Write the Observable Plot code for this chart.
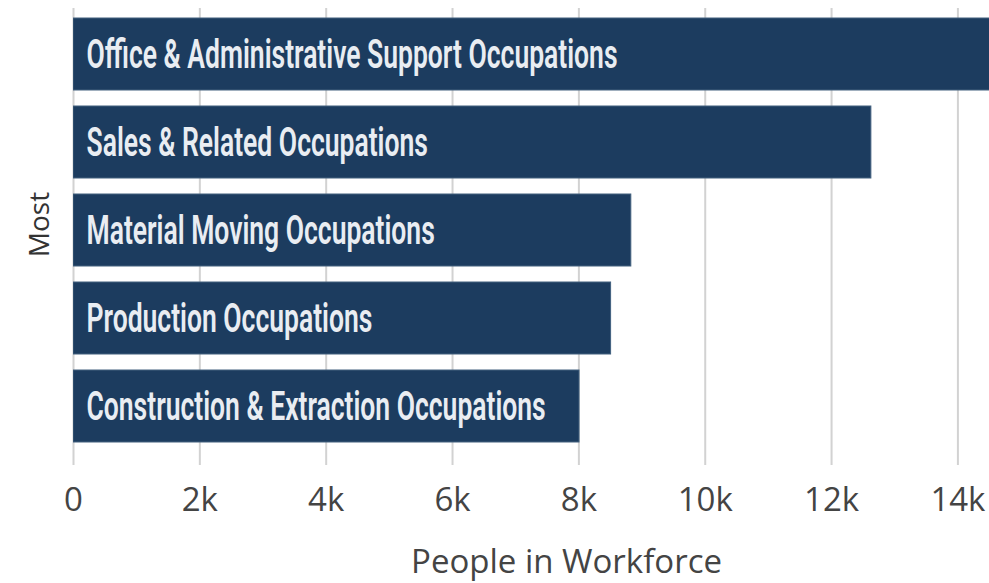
<!DOCTYPE html>
<html>
<head>
<meta charset="utf-8">
<script src="https://cdn.jsdelivr.net/npm/d3@7"></script>
<script src="https://cdn.jsdelivr.net/npm/@observablehq/plot@0.6"></script>
<style>
  html, body { margin: 0; padding: 0; background: #fff; overflow: hidden; }
  #chart svg { display: block; }
</style>
</head>
<body>
<div id="chart"></div>
<script>
const occupations = [
  "Office & Administrative Support Occupations",
  "Sales & Related Occupations",
  "Material Moving Occupations",
  "Production Occupations",
  "Construction & Extraction Occupations"
];
const workers = [14900, 12630, 8830, 8510, 8010];
const xTicks = [0, 2000, 4000, 6000, 8000, 10000, 12000, 14000];
const xLabel = "People in Workforce";
const yLabel = "Most";

const data = occupations.map((name, i) => ({name, value: workers[i]}));
const fmt = d => d === 0 ? "0" : (d / 1000) + "k";

const plot = Plot.plot({
  width: 989,
  height: 583,
  marginLeft: 73,
  marginRight: 0,
  marginTop: 8,
  marginBottom: 131,
  style: {background: "#fff", fontFamily: "'Open Sans', sans-serif"},
  x: {domain: [0, 14500], axis: null},
  y: {domain: occupations, paddingInner: 0.18, paddingOuter: 0.104, axis: null},
  marks: [
    Plot.ruleX(xTicks, {x: d => d, stroke: "#d2d2d2", strokeWidth: 2, insetBottom: -13}),
    Plot.barX(data, {x: "value", y: "name", fill: "#1c3c5f", stroke: "#42607f", strokeWidth: 1, clip: true}),
    Plot.text(data, {y: "name", text: "name", frameAnchor: "left", dx: 13, textAnchor: "start",
      lineAnchor: "middle", fill: "#e9edf2", fontSize: 41, fontWeight: 600,
      fontFamily: "Roboto, sans-serif"}),
    Plot.text(xTicks, {x: d => d, text: fmt, frameAnchor: "bottom", dy: 48, lineAnchor: "middle",
      fontSize: 33, fill: "#444", fontFamily: "'Open Sans', sans-serif"}),
    Plot.text([xLabel], {text: d => d, frameAnchor: "bottom", dx: 35, dy: 110, lineAnchor: "middle",
      fontSize: 33, fill: "#444", fontFamily: "'Open Sans', sans-serif"}),
    Plot.text([yLabel], {text: d => d, frameAnchor: "left", textAnchor: "middle", dx: -33, dy: -6, rotate: -90,
      lineAnchor: "middle", fontSize: 28, fill: "#333", fontFamily: "'Open Sans', sans-serif"})
  ]
});

document.getElementById("chart").appendChild(plot);

// condense bar labels to mimic the narrow typeface
const labels = Array.from(plot.querySelectorAll("text")).filter(t => occupations.includes(t.textContent));
const ref = labels.find(t => t.textContent === occupations[0]);
const factor = 531 / ref.getComputedTextLength();
labels.forEach(t => {
  const w = t.getComputedTextLength();
  t.setAttribute("textLength", w * factor);
  t.setAttribute("lengthAdjust", "spacingAndGlyphs");
});
</script>
</body>
</html>
